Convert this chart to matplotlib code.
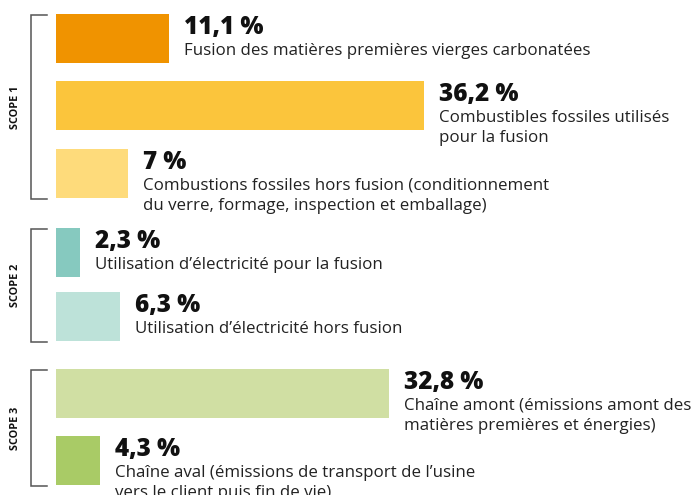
import matplotlib.pyplot as plt

plt.rcParams["font.family"] = ["Open Sans", "DejaVu Sans"]

# Share of emissions per source (%)
shares = [11.1, 36.2, 7.0, 2.3, 6.3, 32.8, 4.3]
value_labels = ["11,1 %", "36,2 %", "7 %", "2,3 %", "6,3 %", "32,8 %", "4,3 %"]
descriptions = [
    "Fusion des matières premières vierges carbonatées",
    "Combustibles fossiles utilisés\npour la fusion",
    "Combustions fossiles hors fusion (conditionnement\ndu verre, formage, inspection et emballage)",
    "Utilisation d’électricité pour la fusion",
    "Utilisation d’électricité hors fusion",
    "Chaîne amont (émissions amont des\nmatières premières et énergies)",
    "Chaîne aval (émissions de transport de l’usine\nvers le client puis fin de vie)",
]
scope_names = ["SCOPE 1", "SCOPE 2", "SCOPE 3"]
scope_members = [[0, 1, 2], [3, 4], [5, 6]]

colors = ["#F09300", "#FBC53C", "#FEDB7B", "#86C9BF", "#BDE2D9", "#D0DFA3", "#A9CB66"]

# layout, in pixels from the top of the figure
bar_tops = [14, 81, 149, 228, 292, 369, 436]
bar_h = 49
px_per_pct = 10.15
x0 = 56.5
line_pitch = 20
W, H = 698, 495

fig = plt.figure(figsize=(W / 100, H / 100), dpi=100)
ax = fig.add_axes([0, 0, 1, 1])
ax.set_xlim(-x0 / px_per_pct, (W - x0) / px_per_pct)
ax.set_ylim(H, 0)
ax.axis("off")

centers = [t + bar_h / 2 for t in bar_tops]
ax.barh(centers, shares, height=bar_h, left=0, color=colors)

gap = 15 / px_per_pct
for i, (v, lab, desc) in enumerate(zip(shares, value_labels, descriptions)):
    base = bar_tops[i] + 20
    ax.text(v + gap, base, lab, fontsize=17.5, fontweight="heavy",
            color="#111111", va="baseline", ha="left")
    # one text per line so every line sits on its own baseline
    for k, line in enumerate(desc.split("\n")):
        ax.text(v + gap, base + 21 + k * line_pitch, line, fontsize=12.2,
                color="#222222", va="baseline", ha="left")

# scope brackets
bx = 31 - x0
tick = 47 - x0
for name, members in zip(scope_names, scope_members):
    top = bar_tops[members[0]] + 1
    bottom = bar_tops[members[-1]] + bar_h + 1
    ax.plot([tick / px_per_pct, bx / px_per_pct, bx / px_per_pct, tick / px_per_pct],
            [top, top, bottom, bottom], color="#555555", lw=1.1,
            solid_joinstyle="miter")
    ax.text((16 - x0) / px_per_pct, (top + bottom) / 2, name, rotation=90,
            fontsize=7.8, fontweight="bold", color="#111111",
            ha="center", va="center")

fig.savefig("out.png", dpi=100)
